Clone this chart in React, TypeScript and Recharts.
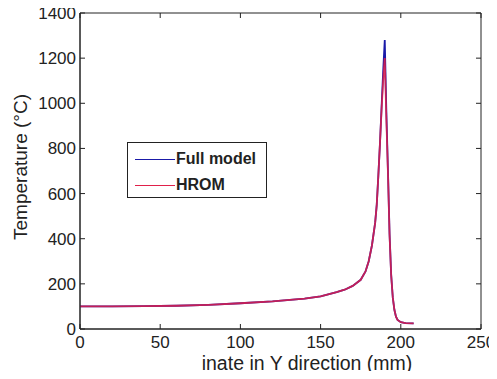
import { LineChart, Line, XAxis, YAxis, ReferenceArea, Label } from "recharts"

const positionMm = [0, 20, 40, 60, 80, 100, 120, 140, 150, 160, 165, 170, 175, 178, 180, 182, 184, 185, 186, 187, 188, 189, 190, 191, 192, 193, 194, 195, 196, 197, 198, 200, 203, 208]
const fullModel = [100, 100, 101, 103, 107, 114, 122, 135, 145, 163, 174, 191, 218, 255, 300, 370, 470, 550, 680, 820, 980, 1140, 1280, 960, 700, 420, 240, 140, 85, 55, 40, 30, 26, 25]
const hrom = [100, 100, 101, 103, 107, 114, 122, 135, 145, 163, 174, 191, 218, 255, 300, 370, 470, 550, 680, 820, 970, 1100, 1200, 930, 690, 415, 238, 140, 85, 55, 40, 30, 26, 25]

const xTicks = [0, 50, 100, 150, 200, 250]
const yTicks = [0, 200, 400, 600, 800, 1000, 1200, 1400]
const seriesNames = ["Full model", "HROM"]
const seriesColors = ["#1a1aa8", "#e0204a"]

const data = positionMm.map((x, i) => ({ x, full: fullModel[i], hrom: hrom[i] }))

const W = 497
const H = 379
const MARGIN = { top: 13, right: 16, left: 0, bottom: 0 }
const Y_AXIS_W = 80
const X_AXIS_H = 50
const PLOT_TOP = MARGIN.top
const PLOT_BOTTOM = H - MARGIN.bottom - X_AXIS_H
const PLOT_LEFT = MARGIN.left + Y_AXIS_W
const PLOT_RIGHT = W - MARGIN.right
const FONT = "'Liberation Sans', Arial, Helvetica, sans-serif"

// MATLAB-style ticks: pointing inwards, mirrored on the opposite side of the box
const XTick = ({ x, payload }: any) => (
  <g>
    <line x1={x} x2={x} y1={PLOT_BOTTOM} y2={PLOT_BOTTOM - 5} stroke="#222" />
    <line x1={x} x2={x} y1={PLOT_TOP} y2={PLOT_TOP + 5} stroke="#222" />
    <text x={x} y={PLOT_BOTTOM + 19} textAnchor="middle" fontSize={17} fill="#222" fontFamily={FONT}>
      {payload.value}
    </text>
  </g>
)

const YTick = ({ y, payload }: any) => (
  <g>
    <line x1={PLOT_LEFT} x2={PLOT_LEFT + 5} y1={y} y2={y} stroke="#222" />
    <line x1={PLOT_RIGHT} x2={PLOT_RIGHT - 5} y1={y} y2={y} stroke="#222" />
    <text x={PLOT_LEFT - 4} y={y + 6} textAnchor="end" fontSize={17} fill="#222" fontFamily={FONT}>
      {payload.value}
    </text>
  </g>
)

const LegendBox = () => (
  <div
    style={{
      position: "absolute",
      left: 127,
      top: 142,
      width: 138,
      height: 54,
      border: "1px solid #222",
      background: "#fff",
      fontFamily: FONT,
      fontSize: 16,
      fontWeight: "bold",
      color: "#222",
    }}
  >
    {seriesNames.map((name, i) => (
      <div key={name} style={{ position: "absolute", left: 7, top: i === 0 ? 7 : 33, display: "flex", alignItems: "center", height: 18 }}>
        <div style={{ width: 40, height: 0, borderTop: `1.2px solid ${seriesColors[i]}`, marginRight: 1 }} />
        <span>{name}</span>
      </div>
    ))}
  </div>
)

export default function App() {
  return (
    <div style={{ position: "relative", margin: -8, width: W, height: H }}>
      <LineChart width={W} height={H} data={data} margin={MARGIN}>
        <XAxis
          dataKey="x"
          type="number"
          domain={[0, 250]}
          ticks={xTicks}
          tick={<XTick />}
          tickLine={false}
          height={X_AXIS_H}
          stroke="#222"
          interval={0}
        >
          <Label
            content={() => (
              <text x={307} y={370} textAnchor="middle" fontSize={19.5} fill="#222" fontFamily={FONT}>
                inate in Y direction (mm)
              </text>
            )}
          />
        </XAxis>
        <YAxis
          type="number"
          domain={[0, 1400]}
          ticks={yTicks}
          tick={<YTick />}
          tickLine={false}
          width={Y_AXIS_W}
          stroke="#222"
          interval={0}
        >
          <Label
            content={() => (
              <text
                x={20}
                y={167}
                transform="rotate(-90 20 167)"
                textAnchor="middle"
                dominantBaseline="central"
                fontSize={19}
                fill="#222"
                fontFamily={FONT}
              >
                Temperature (°C)
              </text>
            )}
          />
        </YAxis>
        <ReferenceArea x1={0} x2={250} y1={0} y2={1400} fill="none" stroke="#222" strokeWidth={1} />
        <Line dataKey="full" stroke={seriesColors[0]} strokeWidth={1.8} dot={false} isAnimationActive={false} />
        <Line dataKey="hrom" stroke={seriesColors[1]} strokeOpacity={0.85} strokeWidth={1.8} dot={false} isAnimationActive={false} />
      </LineChart>
      <LegendBox />
    </div>
  )
}
